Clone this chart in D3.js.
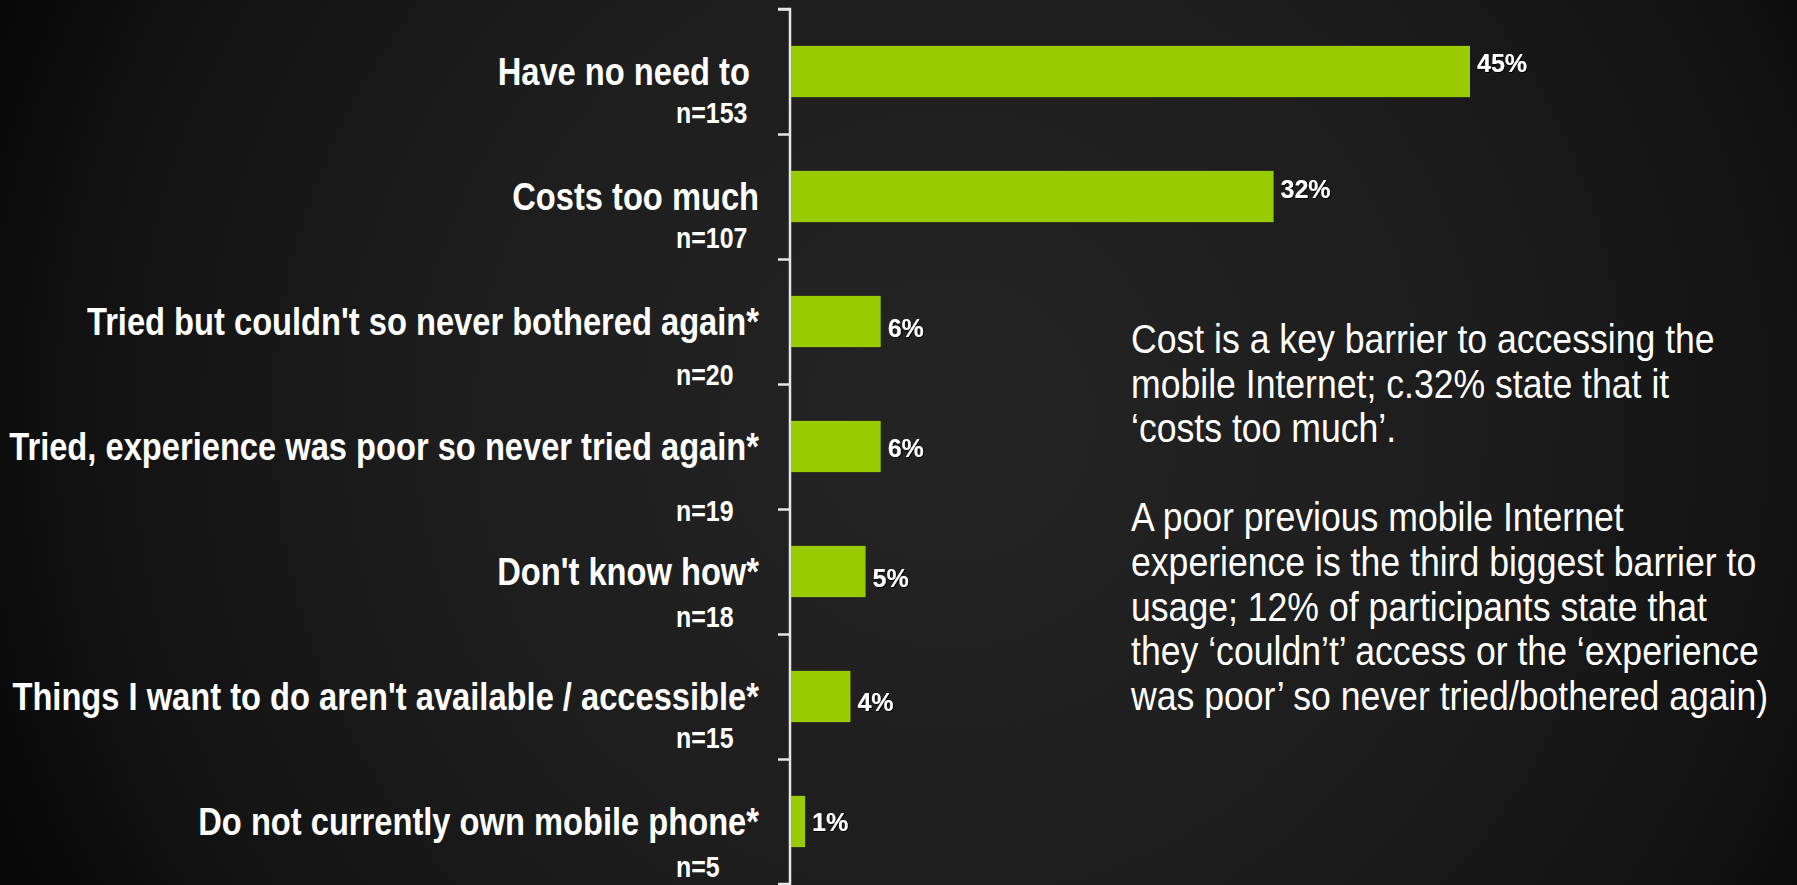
<!DOCTYPE html>
<html>
<head>
<meta charset="utf-8">
<script src="https://cdn.jsdelivr.net/npm/d3@7"></script>
<style>
  html, body { margin: 0; padding: 0; background: #000; }
  svg { display: block; }
  .cat, .n { font-family: 'Liberation Sans', Arial, sans-serif; font-weight: bold; fill: #fff; white-space: pre; }
  .val { font-family: 'Liberation Sans', Arial, sans-serif; font-weight: bold; fill: #fff; }
  .note { font-family: 'Liberation Sans', Arial, sans-serif; fill: #fff; }
</style>
</head>
<body>
<script>
// Reasons for not using the mobile Internet
const categories = [
  "Have no need to ",
  "Costs too much",
  "Tried but couldn't so never bothered again*",
  "Tried, experience was poor so never tried again*",
  "Don't know how*",
  "Things I want to do aren't available / accessible*",
  "Do not currently own mobile phone*"
];
const sampleSizes = [153, 107, 20, 19, 18, 15, 5];
const percentages = [45, 32, 6, 6, 5, 4, 1];

const noteLines = [
  "Cost is a key barrier to accessing the",
  "mobile Internet; c.32% state that it",
  "\u2018costs too much\u2019.",
  "",
  "A poor previous mobile Internet",
  "experience is the third biggest barrier to",
  "usage; 12% of participants state that",
  "they \u2018couldn\u2019t\u2019 access or the \u2018experience",
  "was poor\u2019 so never tried/bothered again)"
];

// per-row nudges for the sample-size and value labels
const nLabelShift = [0, 0, 12, 23, 4, 0, 4];
const valueLabelShift = [-9, -8, 6, 1, 6, 5, 0];

const W = 1797, H = 885;
const svg = d3.select("body").append("svg").attr("width", W).attr("height", H);

// background: dark radial glow
const defs = svg.append("defs");
const grad = defs.append("radialGradient")
  .attr("id", "bg").attr("gradientUnits", "userSpaceOnUse")
  .attr("cx", 950).attr("cy", 420).attr("r", 1150);
grad.append("stop").attr("offset", 0).attr("stop-color", "#242424");
grad.append("stop").attr("offset", 0.45).attr("stop-color", "#1d1d1d");
grad.append("stop").attr("offset", 0.75).attr("stop-color", "#121212");
grad.append("stop").attr("offset", 1).attr("stop-color", "#000000");
svg.append("rect").attr("width", W).attr("height", H).attr("fill", "url(#bg)");

const shadow = defs.append("filter").attr("id", "shadow")
  .attr("x", "-20%").attr("y", "-20%").attr("width", "140%").attr("height", "140%");
shadow.append("feDropShadow").attr("dx", 1).attr("dy", 1).attr("stdDeviation", 0.6)
  .attr("flood-color", "#000").attr("flood-opacity", 0.9);

const axisX = 790;
const plotTop = 9, plotBottom = 884;
// horizontal squeeze that gives the condensed typeface look
const narrow = 0.86, noteNarrow = 0.89;

const y = d3.scaleBand().domain(categories).range([plotTop, plotBottom]).padding(0);
const x = d3.scaleLinear().domain([0, 45]).range([axisX, 1470]);
const barH = y.bandwidth() * 0.41;
const mid = d => y(d) + y.bandwidth() / 2;

// category axis with ticks on the band boundaries
const edge = d3.scaleLinear().domain([0, categories.length]).range([plotTop, plotBottom]);
const axisG = svg.append("g").attr("transform", `translate(${axisX},0)`)
  .call(d3.axisLeft(edge).tickValues(d3.range(categories.length + 1)).tickSize(12).tickFormat(""));
axisG.selectAll("path, line").attr("stroke", "#e6e6e6").attr("stroke-width", 2.5);
axisG.select(".domain").attr("d", `M-12,${plotTop}H0V${plotBottom}H-12`);

// bars
svg.append("g").selectAll("rect").data(categories).join("rect")
  .attr("x", x(0) + 1)
  .attr("y", d => y(d) + (y.bandwidth() - barH) / 2)
  .attr("width", (d, i) => x(percentages[i]) - x(0) - 1)
  .attr("height", barH)
  .attr("fill", "#99cc00");

// value labels
svg.append("g").selectAll("text").data(categories).join("text")
  .attr("class", "val")
  .attr("x", (d, i) => x(percentages[i]) + 7)
  .attr("y", (d, i) => mid(d) + 9 + valueLabelShift[i])
  .attr("font-size", 25)
  .attr("filter", "url(#shadow)")
  .text((d, i) => d3.format(".0f")(percentages[i]) + "%");

// category labels
svg.append("g").selectAll("text").data(categories).join("text")
  .attr("class", "cat")
  .attr("transform", d => `translate(759,${mid(d) + 13}) scale(${narrow},1)`)
  .attr("text-anchor", "end")
  .attr("font-size", 38)
  .text(d => d);

// sample sizes
svg.append("g").selectAll("text").data(categories).join("text")
  .attr("class", "n")
  .attr("transform", (d, i) => `translate(676,${mid(d) + 51 + nLabelShift[i]}) scale(${narrow},1)`)
  .attr("font-size", 29)
  .text((d, i) => "n=" + sampleSizes[i]);

// commentary
svg.append("g").selectAll("text").data(noteLines).join("text")
  .attr("class", "note")
  .attr("transform", (d, i) => `translate(1131,${353 + i * 44.6}) scale(${noteNarrow},1)`)
  .attr("font-size", 40)
  .text(d => d);
</script>
</body>
</html>
